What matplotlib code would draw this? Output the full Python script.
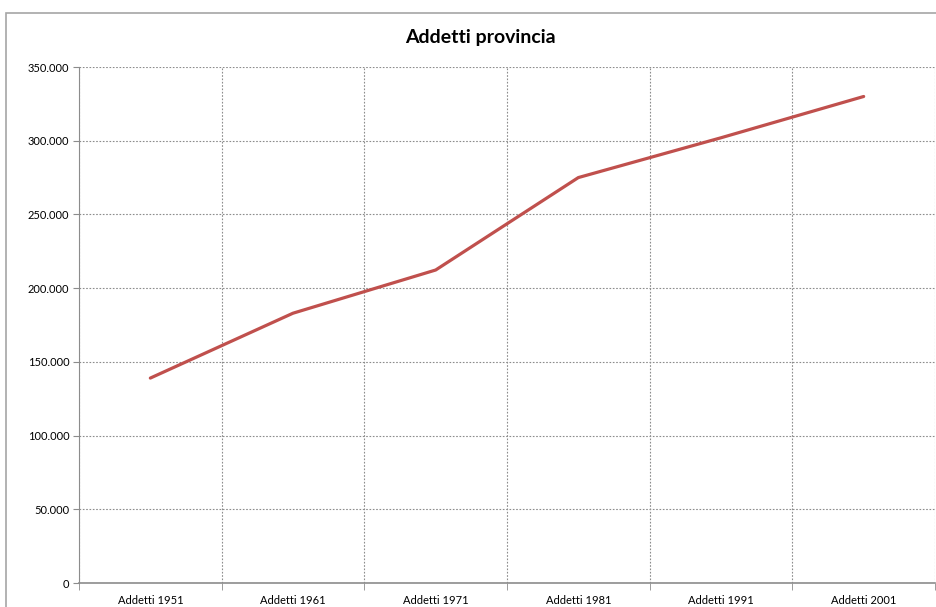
import matplotlib
matplotlib.use("Agg")
import matplotlib.pyplot as plt
from matplotlib.patches import Rectangle
from matplotlib.ticker import FuncFormatter, MultipleLocator, FixedLocator

plt.rcParams['font.family'] = ['Lato', 'DejaVu Sans']

categories = ["Addetti 1951", "Addetti 1961", "Addetti 1971",
              "Addetti 1981", "Addetti 1991", "Addetti 2001"]
addetti = [139000, 183000, 212300, 275000, 302000, 330000]

fig = plt.figure(figsize=(9.36, 6.07), dpi=100)
fig.patch.set_facecolor("white")

# chart area frame
fig.patches.append(Rectangle((6 / 936, -0.05), 1.2, 1 - 13 / 607 + 0.05,
                             transform=fig.transFigure, fill=False,
                             edgecolor="#a6a6a6", linewidth=1.2))

ax = fig.add_axes([79 / 936, 1 - 583 / 607, (935 - 79) / 936, (583 - 67) / 607])
x = list(range(len(categories)))
ax.plot(x, addetti, color="#C0504D", linewidth=2.3, solid_capstyle="round")

ax.set_xlim(-0.5, len(categories) - 0.5)
ax.set_ylim(0, 350000)
ax.yaxis.set_major_locator(MultipleLocator(50000))
ax.yaxis.set_major_formatter(FuncFormatter(
    lambda v, p: "0" if v == 0 else f"{int(v):,}".replace(",", ".")))
ax.set_xticks(x)
ax.set_xticklabels(categories)
ax.xaxis.set_minor_locator(FixedLocator([i + 0.5 for i in range(-1, len(categories))]))

ax.grid(axis="y", which="major", linestyle=(0, (1.5, 1.5)), color="#8c8c8c", linewidth=0.8)
ax.grid(axis="x", which="minor", linestyle=(0, (1.5, 1.5)), color="#8c8c8c", linewidth=0.8)
ax.set_axisbelow(True)

for side in ["top", "right"]:
    ax.spines[side].set_visible(False)
ax.spines["left"].set_color("#8c8c8c")
ax.spines["left"].set_linewidth(0.8)
ax.spines["bottom"].set_color("#8c8c8c")
ax.spines["bottom"].set_linewidth(1.2)

ax.tick_params(axis="y", direction="out", length=4, color="#8c8c8c",
               labelsize=8, pad=3)
ax.tick_params(axis="x", which="major", length=0, labelsize=8, pad=9)
ax.tick_params(axis="x", which="minor", direction="out", length=5, color="#8c8c8c")

fig.text(480 / 936, 1 - 38 / 607, "Addetti provincia", ha="center", va="center",
         fontsize=14, fontweight="bold")

fig.savefig("out.png", dpi=100)
